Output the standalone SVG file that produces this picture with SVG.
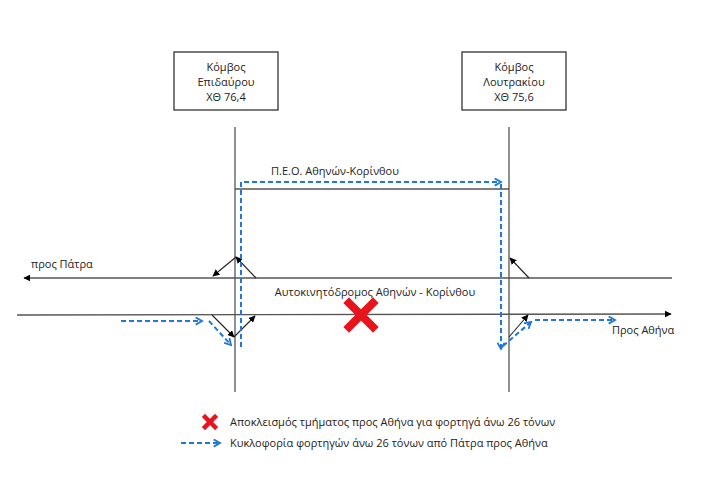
<svg xmlns="http://www.w3.org/2000/svg" width="720" height="480" viewBox="0 0 720 480">
<defs>
<marker id="ab" viewBox="0 0 10 10" refX="9" refY="5" markerWidth="7" markerHeight="7" orient="auto" markerUnits="userSpaceOnUse"><path d="M0,0 L10,5 L0,10 z" fill="#000"/></marker>
<marker id="ablue" viewBox="0 0 10 10" refX="8" refY="5" markerWidth="9" markerHeight="9" orient="auto" markerUnits="userSpaceOnUse"><path d="M1,1 L8,5 L1,9" fill="none" stroke="#1F78D1" stroke-width="2"/></marker>
<style>
text{font-family:"Open Sans","Noto Sans","Liberation Sans",sans-serif;font-size:11px;fill:#222}
.road{stroke:#555;stroke-width:1.3;fill:none}
.thin{stroke:#222;stroke-width:1.1;fill:none;marker-end:url(#ab)}
.blue{stroke:#1F78D1;stroke-width:2;stroke-dasharray:5,3;fill:none;marker-end:url(#ablue)}
.box{fill:#fff;stroke:#222;stroke-width:1.2}
</style>
</defs>
<g id="node-epidavrou">
<rect class="box" x="174" y="52" width="104" height="58"/>
<text x="226" y="71" text-anchor="middle">Κόμβος</text>
<text x="226" y="86" text-anchor="middle">Επιδαύρου</text>
<text x="226" y="101" text-anchor="middle">ΧΘ 76,4</text>
</g>
<g id="node-loutrakiou">
<rect class="box" x="462" y="52" width="104" height="58"/>
<text x="514" y="71" text-anchor="middle">Κόμβος</text>
<text x="514" y="86" text-anchor="middle">Λουτρακίου</text>
<text x="514" y="101" text-anchor="middle">ΧΘ 75,6</text>
</g>
<g id="roads">
<line class="road" x1="235" y1="127" x2="235" y2="392"/>
<line class="road" x1="509" y1="127" x2="509" y2="392"/>
<line class="road" x1="235" y1="189" x2="509" y2="189"/>
<line class="road" x1="672" y1="278" x2="24" y2="278" stroke="#222" marker-end="url(#ab)"/>
<line class="road" x1="17" y1="315" x2="671" y2="314" stroke="#222" marker-end="url(#ab)"/>
</g>
<g id="labels">
<text x="335" y="175" text-anchor="middle">Π.Ε.Ο. Αθηνών-Κορίνθου</text>
<text x="31" y="268">προς Πάτρα</text>
<text x="375" y="296" text-anchor="middle">Αυτοκινητόδρομος Αθηνών - Κορίνθου</text>
<text x="612" y="334">Προς Αθήνα</text>
</g>
<g id="connectors">
<line class="thin" x1="256" y1="278" x2="236" y2="257"/>
<line class="thin" x1="236" y1="257" x2="213" y2="276"/>
<line class="thin" x1="212" y1="315" x2="234" y2="337"/>
<line class="thin" x1="234" y1="337" x2="255" y2="316"/>
<line class="thin" x1="529" y1="278" x2="510" y2="258"/>
<line class="thin" x1="509" y1="337" x2="528" y2="315"/>
<line class="blue" x1="121" y1="321" x2="202" y2="321"/>
<line class="blue" x1="209" y1="321" x2="231" y2="345"/>
<polyline class="blue" points="241,347 241,182 501,182"/>
<line class="blue" x1="501" y1="184" x2="501" y2="349"/>
<line class="blue" x1="503" y1="346" x2="531" y2="322"/>
<line class="blue" x1="535" y1="320" x2="615" y2="320"/>
</g>
<g id="blockage">
<path d="M349,303 L373,327 M373,303 L349,327" stroke="#E8141C" stroke-width="8" stroke-linecap="square"/>
</g>
<g id="legend">
<path d="M205,417 L215,427 M215,417 L205,427" stroke="#E8141C" stroke-width="4.5" stroke-linecap="square"/>
<text x="230" y="426">Αποκλεισμός τμήματος προς Αθήνα για φορτηγά άνω 26 τόνων</text>
<line class="blue" x1="181" y1="443" x2="220" y2="443"/>
<text x="230" y="447">Κυκλοφορία φορτηγών άνω 26 τόνων από Πάτρα προς Αθήνα</text>
</g>
</svg>
